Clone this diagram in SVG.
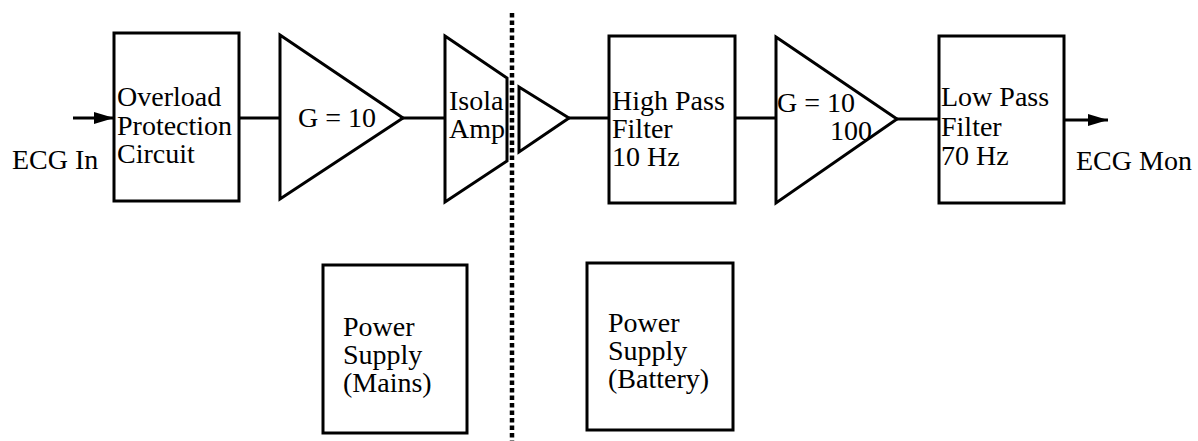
<svg xmlns="http://www.w3.org/2000/svg" width="1198" height="441" viewBox="0 0 1198 441">
<style>
.s{fill:#fff;stroke:#000;stroke-width:3;stroke-linejoin:miter}
.c{fill:none;stroke:#000;stroke-width:3}
text{font-family:"Liberation Serif","Times New Roman",serif;font-size:28px;fill:#000}
</style>
<defs>
<marker id="ah" markerWidth="20" markerHeight="12" refX="20" refY="6" orient="auto" markerUnits="userSpaceOnUse">
<path d="M0,0 L20,6 L0,12 Z" fill="#000"/>
</marker>
</defs>
<rect width="1198" height="441" fill="#fff"/>
<g id="connectors">
<line class="c" x1="73" y1="118" x2="114" y2="118" marker-end="url(#ah)"/>
<line class="c" x1="239" y1="118" x2="280" y2="118"/>
<line class="c" x1="403" y1="118" x2="445" y2="118"/>
<line class="c" x1="569" y1="118" x2="609" y2="118"/>
<line class="c" x1="735" y1="118" x2="776" y2="118"/>
<line class="c" x1="897" y1="119" x2="939" y2="119"/>
<line class="c" x1="1064" y1="120" x2="1108" y2="120" marker-end="url(#ah)"/>
</g>
<g id="isolation-barrier">
<line x1="512" y1="13" x2="512" y2="441" stroke="#000" stroke-width="4.5" stroke-dasharray="4.5 3"/>
</g>
<g id="label-in"><text x="12" y="169">ECG In</text></g>
<g id="overload">
<rect class="s" x="114" y="33" width="125" height="168"/>
<text x="117" y="106">Overload</text>
<text x="117" y="135">Protection</text>
<text x="117" y="163">Circuit</text>
</g>
<g id="gain10">
<polygon class="s" points="280,35 403,118 280,199"/>
<text x="298" y="127">G = 10</text>
</g>
<g id="isolation-amp">
<polygon class="s" points="445,36 507,78 507,161 445,202"/>
<text x="449" y="110">Isola</text>
<text x="449" y="138">Amp</text>
</g>
<g id="buffer">
<polygon class="s" points="519,87 569,118 519,152"/>
</g>
<g id="highpass">
<rect class="s" x="609" y="36" width="126" height="167"/>
<text x="612" y="110">High Pass</text>
<text x="612" y="138">Filter</text>
<text x="612" y="166">10 Hz</text>
</g>
<g id="gain10-100">
<polygon class="s" points="776,37 897,119 776,203"/>
<text x="777" y="112">G = 10</text>
<text x="830" y="140">100</text>
</g>
<g id="lowpass">
<rect class="s" x="939" y="36" width="125" height="167"/>
<text x="941" y="106">Low Pass</text>
<text x="941" y="136">Filter</text>
<text x="941" y="165">70 Hz</text>
</g>
<g id="label-out"><text x="1076" y="170">ECG Mon</text></g>
<g id="psu-mains">
<rect class="s" x="323" y="265" width="144" height="168"/>
<text x="343" y="336">Power</text>
<text x="343" y="364">Supply</text>
<text x="343" y="392">(Mains)</text>
</g>
<g id="psu-battery">
<rect class="s" x="587" y="263" width="146" height="167"/>
<text x="608" y="332">Power</text>
<text x="608" y="360">Supply</text>
<text x="608" y="388">(Battery)</text>
</g>
</svg>
